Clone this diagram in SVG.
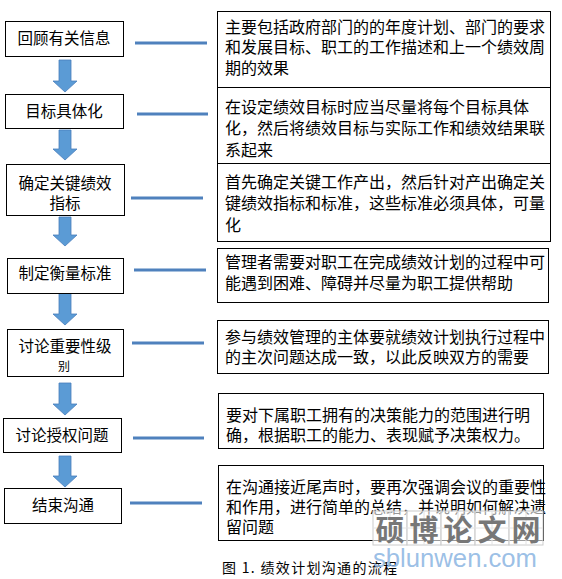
<svg xmlns="http://www.w3.org/2000/svg" width="562" height="579" viewBox="0 0 562 579">
<style>
.box{fill:#fff;stroke:#000;stroke-width:1}
.lt{font-family:"Noto Sans CJK SC","Noto Sans",sans-serif;font-size:15.5px;fill:#000;text-anchor:middle}
.rt{font-family:"Noto Sans CJK SC","Noto Sans",sans-serif;font-size:16px;fill:#000}
.arr{fill:#5b9bd5;stroke:#4a7ebb;stroke-width:0.8}
.con{stroke:#4f81bd;stroke-width:3;fill:none}
.cap{font-family:"Noto Sans CJK SC","Liberation Serif",serif;font-size:14px;fill:#000}
.wm{font-family:"Noto Sans CJK SC",sans-serif;font-size:29px;font-weight:bold;fill:#777;text-anchor:middle}
.cell{fill:#fff;fill-opacity:0.6;stroke:#ccc;stroke-width:1}
</style>
<rect width="562" height="579" fill="#fff"/>
<g id="connectors">
<line class="con" x1="135" y1="43" x2="207" y2="43"/>
<line class="con" x1="137" y1="114" x2="208" y2="114"/>
<line class="con" x1="131" y1="198" x2="203" y2="198"/>
<line class="con" x1="134" y1="270" x2="206" y2="270"/>
<line class="con" x1="132" y1="343" x2="204" y2="343"/>
<line class="con" x1="133" y1="438" x2="204" y2="438"/>
<line class="con" x1="130" y1="503" x2="202" y2="503"/>
<path class="arr" d="M59,60 H71 V81 H77 L65,92 L53,81 H59 Z"/>
<path class="arr" d="M59,130 H71 V149 H77 L65,160 L53,149 H59 Z"/>
<path class="arr" d="M59,217 H71 V235 H77 L65,246 L53,235 H59 Z"/>
<path class="arr" d="M59,293 H71 V314 H77 L65,325 L53,314 H59 Z"/>
<path class="arr" d="M59,383 H71 V404 H77 L65,415 L53,404 H59 Z"/>
<path class="arr" d="M59,456 H71 V476 H77 L65,487 L53,476 H59 Z"/>
</g>
<g id="step1"><rect class="box" x="5.5" y="21.5" width="118" height="35"/><text class="lt" x="64" y="44">回顾有关信息</text></g>
<g id="step2"><rect class="box" x="5.5" y="94.5" width="118" height="34"/><text class="lt" x="64" y="117">目标具体化</text></g>
<g id="step3"><rect class="box" x="6.5" y="164.5" width="118" height="51"/><text class="lt" x="65" y="189">确定关键绩效</text><text class="lt" x="65" y="209">指标</text></g>
<g id="step4"><rect class="box" x="7.5" y="258.5" width="116" height="35"/><text class="lt" x="65" y="279">制定衡量标准</text></g>
<g id="step5"><rect class="box" x="7.5" y="329.5" width="116" height="47"/><text class="lt" x="65" y="352">讨论重要性级</text><text class="lt" x="64" y="371" style="font-size:12px">别</text></g>
<g id="step6"><rect class="box" x="3.5" y="418.5" width="118" height="34"/><text class="lt" x="62" y="441">讨论授权问题</text></g>
<g id="step7"><rect class="box" x="4.5" y="488.5" width="117" height="35"/><text class="lt" x="63" y="511">结束沟通</text></g>
<g id="desc1"><rect class="box" x="217.5" y="11.5" width="333" height="76"/><text class="rt" x="225" y="33">主要包括政府部门的的年度计划、部门的要求</text><text class="rt" x="225" y="53">和发展目标、职工的工作描述和上一个绩效周</text><text class="rt" x="225" y="74">期的效果</text></g>
<g id="desc2"><rect class="box" x="217.5" y="87.5" width="333" height="76"/><text class="rt" x="225" y="113">在设定绩效目标时应当尽量将每个目标具体</text><text class="rt" x="225" y="134">化，然后将绩效目标与实际工作和绩效结果联</text><text class="rt" x="225" y="156">系起来</text></g>
<g id="desc3"><rect class="box" x="217.5" y="163.5" width="333" height="78"/><text class="rt" x="225" y="188">首先确定关键工作产出，然后针对产出确定关</text><text class="rt" x="225" y="209">键绩效指标和标准，这些标准必须具体，可量</text><text class="rt" x="225" y="231">化</text></g>
<g id="desc4"><rect class="box" x="217.5" y="248.5" width="331" height="54"/><text class="rt" x="225" y="268">管理者需要对职工在完成绩效计划的过程中可</text><text class="rt" x="225" y="289">能遇到困难、障碍并尽量为职工提供帮助</text></g>
<g id="desc5"><rect class="box" x="217.5" y="320.5" width="331" height="53"/><text class="rt" x="225" y="343">参与绩效管理的主体要就绩效计划执行过程中</text><text class="rt" x="225" y="363">的主次问题达成一致，以此反映双方的需要</text></g>
<g id="desc6"><rect class="box" x="218.5" y="393.5" width="325" height="55"/><text class="rt" x="226" y="421">要对下属职工拥有的决策能力的范围进行明</text><text class="rt" x="226" y="441">确，根据职工的能力、表现赋予决策权力。</text></g>
<g id="desc7"><rect class="box" x="218.5" y="465.5" width="325" height="75"/><text class="rt" x="226" y="493">在沟通接近尾声时，要再次强调会议的重要性</text><text class="rt" x="226" y="513">和作用，进行简单的总结，并说明如何解决遗</text><text class="rt" x="226" y="533">留问题</text></g>
<text class="cap" x="222" y="573" textLength="175" lengthAdjust="spacing">图 1. 绩效计划沟通的流程</text>
<g id="watermark">
<rect class="cell" x="373" y="511" width="34" height="34"/>
<rect class="cell" x="407" y="511" width="34" height="34"/>
<rect class="cell" x="441" y="511" width="34" height="34"/>
<rect class="cell" x="475" y="511" width="34" height="34"/>
<rect class="cell" x="509" y="511" width="34" height="34"/>
<path d="M390,511 V545 M424,511 V545 M458,511 V545 M492,511 V545 M526,511 V545 M373,528 H543" stroke="#e2e2e2" stroke-width="1" fill="none"/>
<text class="wm" x="390" y="541">硕</text>
<text class="wm" x="424" y="541">博</text>
<text class="wm" x="458" y="541">论</text>
<text class="wm" x="492" y="541">文</text>
<text class="wm" x="526" y="541">网</text>
<text x="373" y="567" font-family="Liberation Sans,Arial,sans-serif" font-size="25" fill="#8fb8e3" fill-opacity="0.9" textLength="164" lengthAdjust="spacingAndGlyphs">sblunwen.com</text>
</g>
</svg>
